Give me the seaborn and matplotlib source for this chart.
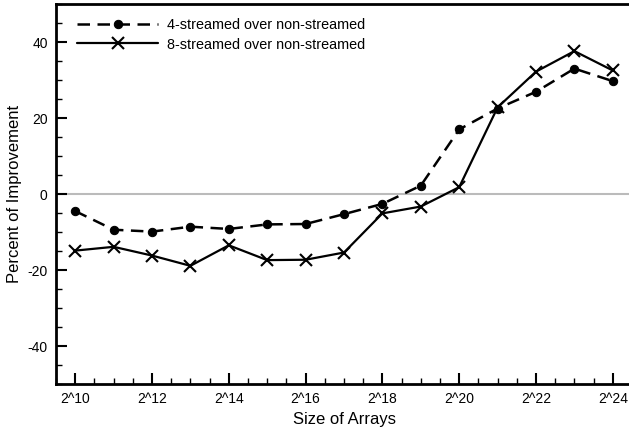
import matplotlib
matplotlib.use("Agg")
import matplotlib.pyplot as plt
import seaborn as sns
import pandas as pd
from matplotlib.ticker import MultipleLocator, FixedLocator

sns.set_style("ticks")
plt.rcParams['font.family'] = ['Liberation Sans', 'DejaVu Sans']
plt.rcParams['text.color'] = 'black'
plt.rcParams['axes.labelcolor'] = 'black'
plt.rcParams['xtick.color'] = 'black'
plt.rcParams['ytick.color'] = 'black'
plt.rcParams['axes.edgecolor'] = 'black'
plt.rcParams['axes.unicode_minus'] = False

exponents = list(range(10, 25))
four_streamed = [-4.5, -9.4, -9.9, -8.6, -9.2, -8.0, -7.9, -5.3, -2.6, 2.2, 17.0, 22.5, 26.9, 33.0, 29.7]
eight_streamed = [-14.9, -13.9, -16.2, -18.9, -13.5, -17.4, -17.3, -15.4, -5.1, -3.3, 1.8, 22.8, 32.2, 37.6, 32.5]
tick_labels = [f"2^{e}" for e in range(10, 25, 2)]
label4 = "4-streamed over non-streamed"
label8 = "8-streamed over non-streamed"

df4 = pd.DataFrame({"exp": exponents, "val": four_streamed})
df8 = pd.DataFrame({"exp": exponents, "val": eight_streamed})

fig = plt.figure(figsize=(6.29, 4.34), dpi=100)
ax = fig.add_axes([56/629, 50/434, 576/629, 380/434])

ax.axhline(0, color="#bbbbbb", lw=1.5, zorder=0)

sns.lineplot(data=df4, x="exp", y="val", ax=ax, color="black", lw=1.8,
             linestyle=(0, (5, 3)),
             marker="o", markersize=6, markeredgecolor="black", markerfacecolor="black",
             label=label4)
sns.lineplot(data=df8, x="exp", y="val", ax=ax, color="black", lw=1.6,
             linestyle="-",
             marker="x", markersize=9, markeredgewidth=1.5, markeredgecolor="black",
             label=label8)

ax.set_xlim(9.5, 24.5)
ax.set_ylim(-50, 50)
ax.xaxis.set_major_locator(FixedLocator(list(range(10, 25, 2))))
ax.set_xticklabels(tick_labels)
ax.xaxis.set_minor_locator(MultipleLocator(0.5))
ax.yaxis.set_major_locator(MultipleLocator(20))
ax.yaxis.set_minor_locator(MultipleLocator(5))
ax.tick_params(which="major", direction="in", length=8, width=1.5, labelsize=10, pad=6)
ax.tick_params(which="minor", direction="in", length=4, width=1.0)
ax.tick_params(axis="x", top=False)
ax.tick_params(axis="y", right=False)

for s in ["left", "bottom", "top"]:
    ax.spines[s].set_linewidth(2)
    ax.spines[s].set_visible(True)
ax.spines["right"].set_visible(False)

ax.set_xlabel("Size of Arrays", fontsize=12, labelpad=4)
ax.set_ylabel("Percent of Improvement", fontsize=12, labelpad=4)

leg = ax.legend(loc="upper left", frameon=False, fontsize=10.4, handlelength=5.6,
                numpoints=1, bbox_to_anchor=(0.012, 1.0), labelspacing=0.35,
                handletextpad=0.6, borderaxespad=0.6)

fig.savefig("out.png", dpi=100)
